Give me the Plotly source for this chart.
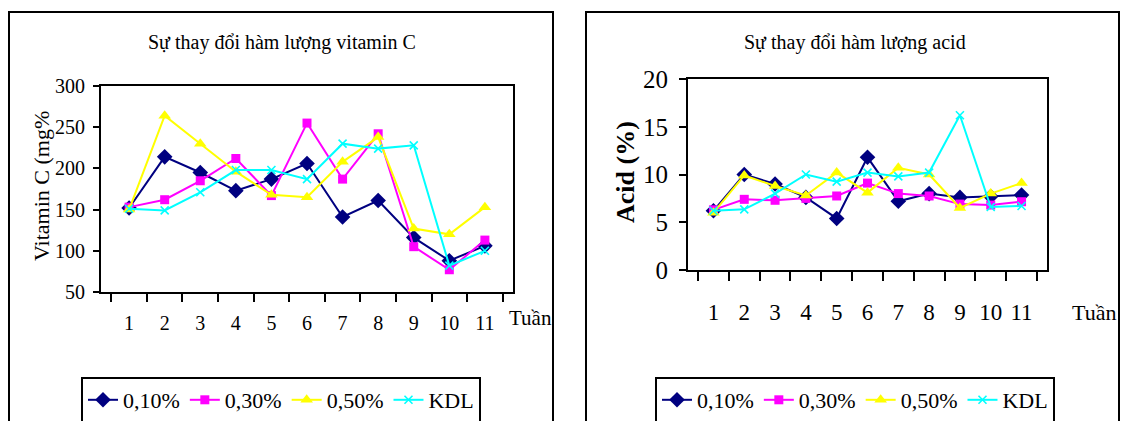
import plotly.graph_objects as go

weeks = [str(i) for i in range(1, 12)]
series_names = ["0,10%", "0,30%", "0,50%", "KDL"]

vitc_010 = [152, 214, 195, 173, 187, 206, 141, 161, 116, 88, 106]
vitc_030 = [153, 162, 185, 212, 167, 255, 187, 242, 105, 77, 113]
vitc_050 = [150, 264, 230, 196, 168, 165, 208, 238, 127, 120, 153]
vitc_kdl = [151, 149, 171, 198, 198, 187, 230, 224, 228, 82, 100]

acid_010 = [6.2, 10.0, 9.0, 7.6, 5.4, 11.8, 7.2, 8.0, 7.6, 7.7, 7.85]
acid_030 = [6.3, 7.4, 7.3, 7.5, 7.75, 9.1, 8.0, 7.75, 6.9, 6.8, 7.15]
acid_050 = [6.0, 9.9, 8.8, 7.8, 10.2, 8.1, 10.7, 10.0, 6.5, 8.0, 9.1]
acid_kdl = [6.2, 6.35, 8.0, 10.0, 9.25, 10.2, 9.8, 10.2, 16.2, 6.6, 6.7]

colors = ["#000080", "#FF00FF", "#FFFF00", "#00FFFF"]
symbols = ["diamond", "square", "triangle-up", "x-thin-open"]
sizes = [12, 9, 11, 8]

W, H = 1123, 421
FONT = "Liberation Serif"

def px(x):
    return x / W

def py(y):
    return 1 - y / H

fig = go.Figure()

vit = [vitc_010, vitc_030, vitc_050, vitc_kdl]
acd = [acid_010, acid_030, acid_050, acid_kdl]

for i, name in enumerate(series_names):
    mk = dict(symbol=symbols[i], size=sizes[i], color=colors[i])
    if symbols[i].startswith("x"):
        mk["line"] = dict(color=colors[i], width=1.6)
    fig.add_trace(go.Scatter(x=weeks, y=vit[i], name=name, mode="lines+markers",
                             line=dict(color=colors[i], width=2), marker=mk,
                             xaxis="x", yaxis="y", legend="legend"))
for i, name in enumerate(series_names):
    mk = dict(symbol=symbols[i], size=sizes[i], color=colors[i])
    if symbols[i].startswith("x"):
        mk["line"] = dict(color=colors[i], width=1.6)
    fig.add_trace(go.Scatter(x=weeks, y=acd[i], name=name, mode="lines+markers",
                             line=dict(color=colors[i], width=2), marker=mk,
                             xaxis="x2", yaxis="y2", legend="legend2"))

axis_common = dict(showline=True, linecolor="black", linewidth=2, mirror=True,
                   showgrid=False, zeroline=False, ticks="outside", tickcolor="black",
                   tickwidth=2)

fig.update_layout(
    width=W, height=H,
    margin=dict(l=0, r=0, t=0, b=0, autoexpand=False),
    paper_bgcolor="white", plot_bgcolor="white",
    font=dict(family=FONT, color="black", size=18),
    xaxis=dict(domain=[px(101), px(513)], anchor="y", type="category",
               tickson="boundaries", ticklen=8, ticklabelstandoff=12, tickangle=0,
               tickfont=dict(size=20), **axis_common),
    yaxis=dict(domain=[py(292), py(86)], anchor="x", range=[50, 300],
               tickvals=[50, 100, 150, 200, 250, 300], ticklen=6,
               ticklabelstandoff=4, tickfont=dict(size=20), **axis_common),
    xaxis2=dict(domain=[px(688), px(1047)], anchor="y2", type="category",
                tickson="boundaries", ticklen=9, ticklabelstandoff=20, tickangle=0,
                tickfont=dict(size=23), **axis_common),
    yaxis2=dict(domain=[py(270), py(79)], anchor="x2", range=[0, 20],
                tickvals=[0, 5, 10, 15, 20], ticklen=7, ticklabelstandoff=6,
                tickfont=dict(size=25), **axis_common),
    legend=dict(orientation="h", x=px(81), xanchor="left", y=py(377), yanchor="top",
                bordercolor="black", borderwidth=2, bgcolor="white",
                font=dict(size=22, family=FONT), itemwidth=30),
    legend2=dict(orientation="h", x=px(655), xanchor="left", y=py(377), yanchor="top",
                 bordercolor="black", borderwidth=2, bgcolor="white",
                 font=dict(size=22, family=FONT), itemwidth=30),
    showlegend=True,
)

# outer chart frames
fig.add_shape(type="rect", xref="paper", yref="paper", x0=px(9), x1=px(553),
              y0=-0.1, y1=py(12), line=dict(color="black", width=2), layer="below")
fig.add_shape(type="rect", xref="paper", yref="paper", x0=px(586), x1=px(1119),
              y0=-0.1, y1=py(12), line=dict(color="black", width=2), layer="below")

ann = [
    dict(text="Sự thay đổi hàm lượng vitamin C", x=px(282), y=py(42), size=20),
    dict(text="Sự thay đổi hàm lượng acid", x=px(855), y=py(42), size=20),
    dict(text="Tuần", x=px(530), y=py(318), size=21),
    dict(text="Tuần", x=px(1094), y=py(312), size=22),
]
for a in ann:
    fig.add_annotation(text=a["text"], x=a["x"], y=a["y"], xref="paper", yref="paper",
                       xanchor="center", yanchor="middle", showarrow=False,
                       font=dict(size=a["size"], family=FONT, color="black"))

fig.add_annotation(text="Vitamin C (mg%", x=px(42), y=py(186), xref="paper", yref="paper",
                   textangle=-90, showarrow=False, xanchor="center", yanchor="middle",
                   font=dict(size=22, family=FONT, color="black"))
fig.add_annotation(text="<b>Acid (%)</b>", x=px(625), y=py(172), xref="paper", yref="paper",
                   textangle=-90, showarrow=False, xanchor="center", yanchor="middle",
                   font=dict(size=26, family=FONT, color="black"))

fig.write_html("out.html")
